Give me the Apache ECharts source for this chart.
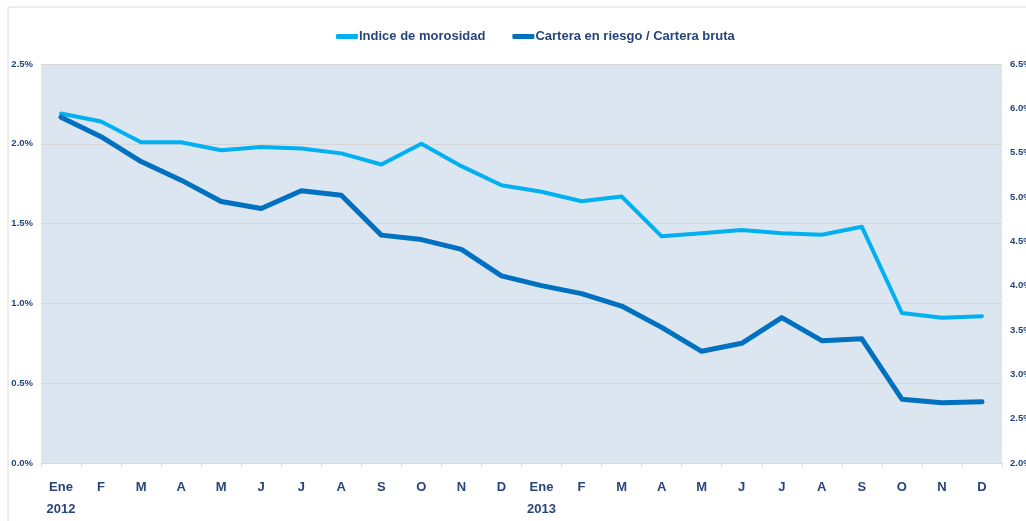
<!DOCTYPE html>
<html>
<head>
<meta charset="utf-8">
<script src="https://cdn.jsdelivr.net/npm/echarts@6/dist/echarts.min.js"></script>
<style>
  html, body { margin: 0; padding: 0; background: #fff; }
  #chart { width: 1026px; height: 521px; }
</style>
</head>
<body>
<div id="chart"></div>
<script>
// meses, ene 2012 - dic 2013
const months = ['Ene\n2012', 'F', 'M', 'A', 'M', 'J', 'J', 'A', 'S', 'O', 'N', 'D',
                'Ene\n2013', 'F', 'M', 'A', 'M', 'J', 'J', 'A', 'S', 'O', 'N', 'D'];

// eje izquierdo (%)
const morosidad = [2.19, 2.14, 2.01, 2.01, 1.96, 1.98, 1.97, 1.94, 1.87, 2.00, 1.86, 1.74,
                   1.70, 1.64, 1.67, 1.42, 1.44, 1.46, 1.44, 1.43, 1.48, 0.94, 0.91, 0.92];

// eje derecho (%)
const carteraRiesgo = [5.90, 5.68, 5.40, 5.19, 4.95, 4.87, 5.07, 5.02, 4.57, 4.52, 4.41, 4.11,
                       4.00, 3.91, 3.77, 3.53, 3.26, 3.35, 3.64, 3.38, 3.40, 2.72, 2.68, 2.69];

const leftTicks = { min: 0, max: 2.5, interval: 0.5 };
const rightTicks = { min: 2, max: 6.5, interval: 0.5 };

const txt = '#27457a';
const font = "'Liberation Sans', sans-serif";

const myChart = echarts.init(document.getElementById('chart'));

const option = {
  backgroundColor: '#fff',
  animation: false,
  graphic: [{
    type: 'rect',
    shape: { x: 8, y: 7, width: 1200, height: 700 },
    style: { fill: 'none', stroke: '#dcdcdc', lineWidth: 1 },
    silent: true
  }],
  legend: {
    left: 331,
    top: 25,
    itemWidth: 22,
    itemHeight: 5,
    itemGap: 27,
    icon: 'roundRect',
    textStyle: { color: txt, fontFamily: font, fontWeight: 'bold', fontSize: 13, padding: [0, 0, 0, -4] },
    data: ['Indice de morosidad', 'Cartera en riesgo / Cartera bruta']
  },
  grid: {
    left: 41,
    right: 24,
    top: 64,
    bottom: 58,
    outerBoundsMode: 'none',
    show: true,
    backgroundColor: '#dce6f0',
    borderWidth: 0
  },
  xAxis: {
    type: 'category',
    data: months,
    boundaryGap: true,
    axisLine: { lineStyle: { color: '#d9d9d9' } },
    axisTick: { show: true, length: 4, lineStyle: { color: '#d9d9d9' } },
    axisLabel: {
      color: txt, fontFamily: font, fontWeight: 'bold', fontSize: 13,
      lineHeight: 22, margin: 13, interval: 0
    }
  },
  yAxis: [{
    type: 'value',
    min: leftTicks.min,
    max: leftTicks.max,
    interval: leftTicks.interval,
    axisLine: { show: false },
    axisTick: { show: false },
    splitLine: { lineStyle: { color: '#d6d6d6', width: 1 } },
    axisLabel: {
      color: txt, fontFamily: font, fontWeight: 'bold', fontSize: 9.5, margin: 8,
      formatter: v => v.toFixed(1) + '%'
    }
  }, {
    type: 'value',
    min: rightTicks.min,
    max: rightTicks.max,
    interval: rightTicks.interval,
    axisLine: { show: false },
    axisTick: { show: false },
    splitLine: { show: false },
    axisLabel: {
      color: txt, fontFamily: font, fontWeight: 'bold', fontSize: 9.5, margin: 8,
      formatter: v => v.toFixed(1) + '%'
    }
  }],
  series: [{
    name: 'Indice de morosidad',
    type: 'line',
    yAxisIndex: 0,
    data: morosidad,
    showSymbol: false,
    symbol: 'none',
    color: '#00b0f0',
    lineStyle: { width: 4, color: '#00b0f0', cap: 'round', join: 'round' }
  }, {
    name: 'Cartera en riesgo / Cartera bruta',
    type: 'line',
    yAxisIndex: 1,
    data: carteraRiesgo,
    showSymbol: false,
    symbol: 'none',
    color: '#0070c0',
    lineStyle: { width: 5, color: '#0070c0', cap: 'round', join: 'round' }
  }]
};

myChart.setOption(option);
</script>
</body>
</html>
